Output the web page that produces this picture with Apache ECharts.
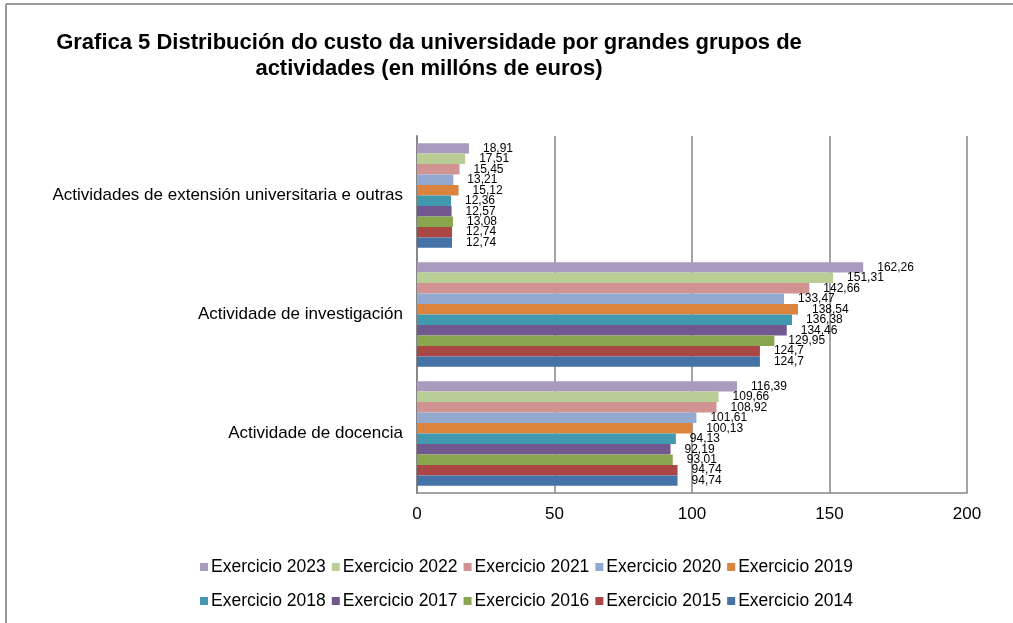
<!DOCTYPE html>
<html>
<head>
<meta charset="utf-8">
<script src="https://cdn.jsdelivr.net/npm/echarts@6/dist/echarts.min.js"></script>
<style>
html, body { margin: 0; padding: 0; background: #fff; }
#main { width: 1013px; height: 623px; }
</style>
</head>
<body>
<div id="main"></div>
<script>
// categorias (de abaixo a arriba)
var categories = ['Actividade de docencia', 'Actividade de investigación', 'Actividades de extensión universitaria e outras'];
var years = ['Exercicio 2014', 'Exercicio 2015', 'Exercicio 2016', 'Exercicio 2017', 'Exercicio 2018',
             'Exercicio 2019', 'Exercicio 2020', 'Exercicio 2021', 'Exercicio 2022', 'Exercicio 2023'];
// valores por exercicio: [docencia, investigación, extensión]
var v2014 = [94.74, 124.7, 12.74];
var v2015 = [94.74, 124.7, 12.74];
var v2016 = [93.01, 129.95, 13.08];
var v2017 = [92.19, 134.46, 12.57];
var v2018 = [94.13, 136.38, 12.36];
var v2019 = [100.13, 138.54, 15.12];
var v2020 = [101.61, 133.47, 13.21];
var v2021 = [108.92, 142.66, 15.45];
var v2022 = [109.66, 151.31, 17.51];
var v2023 = [116.39, 162.26, 18.91];
var xTicks = [0, 50, 100, 150, 200];

var values = [v2014, v2015, v2016, v2017, v2018, v2019, v2020, v2021, v2022, v2023];
var colors = ['#4572A7', '#AA4643', '#89A54E', '#71588F', '#4198AF',
              '#DB843D', '#93A9CF', '#D19392', '#B9CD96', '#A99BBD'];

var font = '"Liberation Sans", Arial, sans-serif';

// a primeira serie queda arriba, asi que vamos de 2023 a 2014
var series = [];
for (var i = years.length - 1; i >= 0; i--) {
    series.push({
        name: years[i],
        type: 'bar',
        data: values[i],
        barGap: '0%',
        barCategoryGap: '12%',
        itemStyle: { color: colors[i] },
        label: {
            show: true,
            position: 'right',
            distance: 14,
            color: '#000',
            fontFamily: font,
            fontSize: 12,
            formatter: function (p) { return String(p.value).replace('.', ','); }
        }
    });
}

var myChart = echarts.init(document.getElementById('main'));
myChart.setOption({
    animation: false,
    backgroundColor: '#fff',
    title: {
        text: 'Grafica 5 Distribución do custo da universidade por grandes grupos de\nactividades (en millóns de euros)',
        left: 424,
        top: 25,
        textAlign: 'center',
        textStyle: {
            fontFamily: font,
            fontWeight: 'bold',
            fontSize: 22,
            lineHeight: 26,
            color: '#000'
        }
    },
    legend: [
        {
            data: ['Exercicio 2023', 'Exercicio 2022', 'Exercicio 2021', 'Exercicio 2020', 'Exercicio 2019'],
            left: 195, top: 553,
            icon: 'rect', itemWidth: 8, itemHeight: 8, itemGap: 6,
            textStyle: { fontFamily: font, fontSize: 17.5, color: '#000', padding: [0, 0, 0, -2] }
        },
        {
            data: ['Exercicio 2018', 'Exercicio 2017', 'Exercicio 2016', 'Exercicio 2015', 'Exercicio 2014'],
            left: 195, top: 587,
            icon: 'rect', itemWidth: 8, itemHeight: 8, itemGap: 6,
            textStyle: { fontFamily: font, fontSize: 17.5, color: '#000', padding: [0, 0, 0, -2] }
        }
    ],
    grid: { left: 417, right: 46, top: 136, bottom: 130, containLabel: false },
    xAxis: {
        type: 'value',
        min: xTicks[0],
        max: xTicks[xTicks.length - 1],
        interval: 50,
        axisLine: { show: true, lineStyle: { color: '#868686', width: 1.5 } },
        axisTick: { show: false },
        axisLabel: { color: '#000', fontFamily: font, fontSize: 17, margin: 13 },
        splitLine: { show: true, lineStyle: { color: '#868686', width: 1.5 } }
    },
    yAxis: {
        type: 'category',
        data: categories,
        axisLine: { show: true, lineStyle: { color: '#868686', width: 2 } },
        axisTick: { show: false },
        axisLabel: { color: '#000', fontFamily: font, fontSize: 17, margin: 14 }
    },
    graphic: [
        { type: 'line', shape: { x1: 6, y1: 4, x2: 6, y2: 623 }, style: { stroke: '#9a9a9a', lineWidth: 2 } },
        { type: 'line', shape: { x1: 6, y1: 4, x2: 1013, y2: 4 }, style: { stroke: '#9a9a9a', lineWidth: 2 } }
    ],
    series: series
});
</script>
</body>
</html>
